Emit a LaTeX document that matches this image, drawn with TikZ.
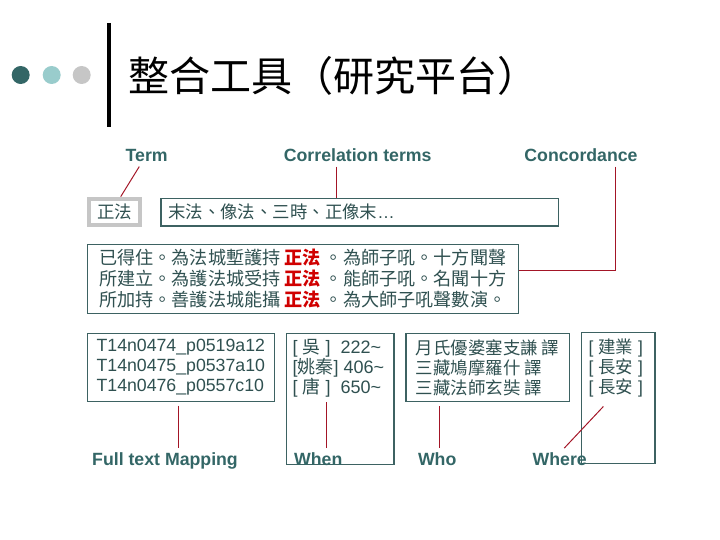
\documentclass[tikz,border=0pt]{standalone}
\usepackage{fontspec}
\setmainfont{Liberation Sans}
\setsansfont{Liberation Sans}
\newfontfamily\cjk{Noto Sans CJK TC}
\usepackage{xcolor}
\usepackage{tikz}
\usetikzlibrary{positioning, calc}
\definecolor{toolTeal}{HTML}{336666}
\definecolor{toolAqua}{HTML}{99CCCC}
\definecolor{toolGrey}{HTML}{C6C6C6}
\definecolor{toolSlate}{HTML}{3D6262}
\definecolor{toolInk}{HTML}{2F5050}
\definecolor{toolRed}{HTML}{A31526}
\definecolor{toolHit}{HTML}{D00000}

\begin{document}
\begin{tikzpicture}[
  every node/.style={font=\sffamily},
  heading/.style={
    font=\sffamily\fontsize{12.6}{14}\selectfont\bfseries,
    text=toolTeal, anchor=base
  },
  databox/.style={
    rectangle, draw=toolSlate, line width=0.9pt,
    text=toolInk, inner sep=0pt
  },
  cjktext/.style={font=\cjk\fontsize{12.4}{14.4}\selectfont, text=toolInk, align=left},
  link/.style={draw=toolRed, line width=0.7pt},
]
\useasboundingbox (0,0) rectangle (18,13.5);

% Title bar
\fill[toolTeal] (0.5175,11.625) circle (0.225);
\fill[toolAqua] (1.2925,11.625) circle (0.225);
\fill[toolGrey] (2.0425,11.625) circle (0.225);
\draw[black, line width=2.8pt] (2.7175,12.925) -- (2.7175,10.325);
\node[anchor=west, inner sep=0pt, font=\cjk\fontsize{29.2}{31}\selectfont] (title) at (3.2,11.6) {整合工具（研究平台）};

% Headings
\node[heading] (term) at (3.6675,9.465) {Term};
\node[heading] (corrlab) at (8.9425,9.465) {Correlation terms};
\node[heading] (conclab) at (14.525,9.465) {Concordance};

% Term and correlation terms
\node[cjktext, draw=toolGrey, line width=2.85pt, minimum width=1.26cm, minimum height=0.665cm, inner sep=0pt, align=center] (zf) at (2.8625,8.2) {正法};
\node[databox, cjktext, minimum width=9.93cm, minimum height=0.69cm, inner xsep=0.18cm, text width=9.57cm] (corr) at (8.99,8.195) {末法、像法、三時、正像末{\sffamily …}};

% Concordance
\node[databox, cjktext, minimum width=10.775cm, minimum height=1.725cm, font=\cjk\fontsize{12.9}{14.8}\selectfont] (conc) at (7.57,6.53) {%
  已得住。為法城塹護持 {\color{toolHit}\bfseries 正法} 。為師子吼。十方聞聲\\
  所建立。為護法城受持 {\color{toolHit}\bfseries 正法} 。能師子吼。名聞十方\\
  所加持。善護法城能攝 {\color{toolHit}\bfseries 正法} 。為大師子吼聲數演。};

% Mapping, when, who, where
\node[databox, minimum width=4.675cm, minimum height=1.71cm, align=left, font=\sffamily\fontsize{12.6}{14.2}\selectfont] (map) at (4.52,4.3125) {T14n0474\_p0519a12\\T14n0475\_p0537a10\\T14n0476\_p0557c10};
\node[databox, minimum width=2.68cm, minimum height=3.27cm] (when) at (8.51,3.53) {};
\node[anchor=west, align=left, text=toolInk, font=\sffamily\fontsize{12.8}{14.2}\selectfont] (whentxt) at (7.19,4.29) {[~{\cjk 吳}~]~~222\textasciitilde\\{[}{\cjk 姚秦}] 406\textasciitilde\\{[}~{\cjk 唐}~]~~650\textasciitilde};
\node[databox, cjktext, minimum width=4.08cm, minimum height=1.71cm, font=\cjk\fontsize{12.4}{14.2}\selectfont] (who) at (12.19,4.3125) {月氏優婆塞支謙 譯\\三藏鳩摩羅什 譯\\三藏法師玄奘 譯};
\node[databox, minimum width=1.83cm, minimum height=3.275cm] (where) at (15.46,3.555) {};
\node[align=left, text=toolInk, font=\sffamily\fontsize{12.4}{14.2}\selectfont] (wheretxt) at (15.395,4.29) {[ {\cjk 建業} ]\\{[} {\cjk 長安} ]\\{[} {\cjk 長安} ]};

% Bottom headings
\node[heading] (maplab) at (4.125,1.853) {Full text Mapping};
\node[heading] (whenlab) at (7.9575,1.853) {When};
\node[heading] (wholab) at (10.93,1.853) {Who};
\node[heading] (wherelab) at (13.9925,1.853) {Where};

% Links
\draw[link] ([xshift=-0.185cm]term.south) -- ([xshift=0.155cm]zf.north);
\draw[link] ([xshift=-0.525cm]corrlab.south) -- ([xshift=-0.525cm]corrlab.south |- corr.north);
\draw[link] ([xshift=0.8575cm]conclab.south) |- ([yshift=0.22cm]conc.east);
\draw[link] ([xshift=-0.06cm,yshift=-0.08cm]map.south) -- ([xshift=-0.06cm]map.south |- maplab.north);
\draw[link] ([xshift=0.21cm]whenlab.north) -- ([xshift=0.21cm]whenlab.north |- whentxt.south);
\draw[link] ([xshift=0.05cm]wholab.north) -- ([xshift=0.05cm,yshift=-0.08cm]wholab.north |- who.south);
\draw[link] ([xshift=0.115cm]wherelab.north) -- ([xshift=-0.31cm,yshift=-0.1cm]wheretxt.south);

\end{tikzpicture}
\end{document}
